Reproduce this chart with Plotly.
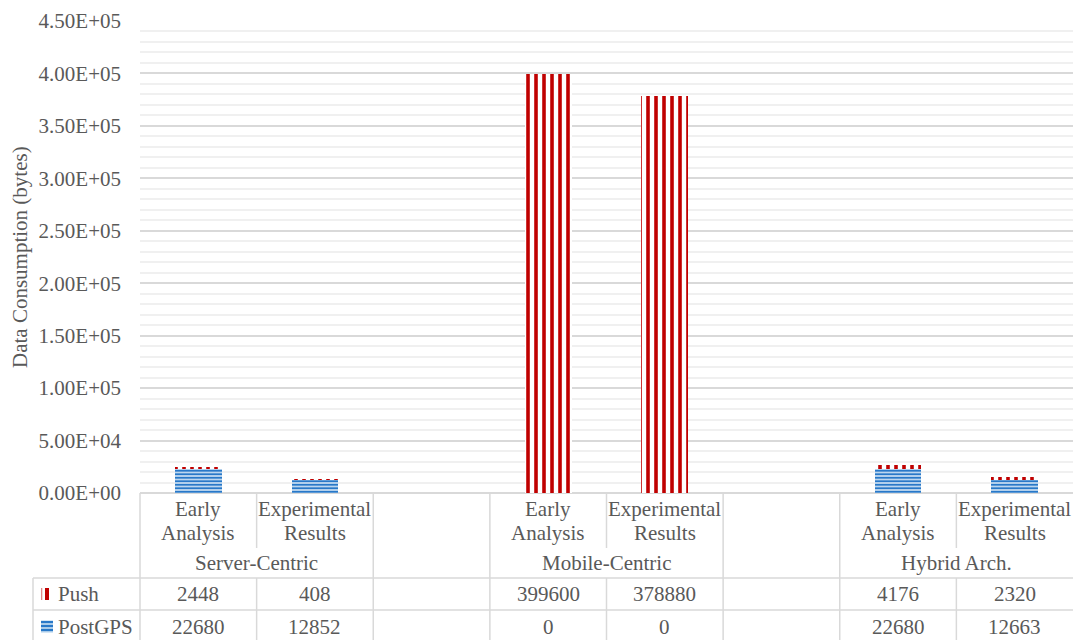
import plotly.graph_objects as go

# ---- data ----
categories = ["Early Analysis", "Experimental Results", "",
              "Early Analysis", "Experimental Results", "",
              "Early Analysis", "Experimental Results"]
groups = ["Server-Centric", "Mobile-Centric", "Hybrid Arch."]
group_centers = [0.5, 3.5, 6.5]
push = [2448, 408, None, 399600, 378880, None, 4176, 2320]
postgps = [22680, 12852, None, 0, 0, None, 22680, 12663]
y_ticks = [0, 50000, 100000, 150000, 200000, 250000, 300000, 350000, 400000, 450000]

FONT = "Liberation Serif, Times New Roman, DejaVu Serif, serif"
TXT = "#595959"
GRID = "#d9d9d9"
RED = "#C00000"
BLUE = "#2878C8"
FS = 21

# pixel geometry helpers
L, T, B = 140, 21, 493
W, H = 1073, 640
PW, PH = W - L, B - T


def py(p):
    return (B - p) / PH


def px(p):
    return (p - L) / PW


x = list(range(len(categories)))

fig = go.Figure()
fig.add_trace(go.Bar(
    x=x, y=postgps, name="PostGPS", width=0.4,
    marker=dict(color="#bcd6ef", line=dict(width=0),
                pattern=dict(shape="-", fgcolor=BLUE, bgcolor="#bcd6ef", fgopacity=1,
                             size=3.5, solidity=0.5, fillmode="replace")),
))
fig.add_trace(go.Bar(
    x=x, y=push, name="Push", width=0.4,
    marker=dict(color="white", line=dict(width=0),
                pattern=dict(shape="|", fgcolor=RED, bgcolor="white", fgopacity=1,
                             size=8, solidity=0.45, fillmode="replace")),
))

shapes = []
line = dict(color=GRID, width=1.5)
n = len(categories)


def bx(i):  # boundary paper x at left of category i
    return i / n


# horizontal table lines
for yy in (578, 610):
    shapes.append(dict(type="line", xref="paper", yref="paper",
                       x0=px(33), x1=1, y0=py(yy), y1=py(yy), line=line))
# left border lines
shapes.append(dict(type="line", xref="paper", yref="paper",
                   x0=0, x1=0, y0=py(493), y1=py(640), line=line))
shapes.append(dict(type="line", xref="paper", yref="paper",
                   x0=px(33), x1=px(33), y0=py(578), y1=py(640), line=line))
# vertical boundaries
for i in range(1, n):
    if categories[i] == "" or categories[i - 1] == "":
        shapes.append(dict(type="line", xref="paper", yref="paper",
                           x0=bx(i), x1=bx(i), y0=py(493), y1=py(640), line=line))
    else:
        shapes.append(dict(type="line", xref="paper", yref="paper",
                           x0=bx(i), x1=bx(i), y0=py(493), y1=py(548), line=line))
        shapes.append(dict(type="line", xref="paper", yref="paper",
                           x0=bx(i), x1=bx(i), y0=py(578), y1=py(640), line=line))

# legend keys
shapes.append(dict(type="rect", xref="paper", yref="paper", x0=px(41), x1=px(42.3),
                   y0=py(600), y1=py(588), line=dict(width=0), fillcolor="#e08a8a"))
shapes.append(dict(type="rect", xref="paper", yref="paper", x0=px(45), x1=px(49),
                   y0=py(600), y1=py(588), line=dict(width=0), fillcolor=RED))
shapes.append(dict(type="rect", xref="paper", yref="paper", x0=px(41), x1=px(53),
                   y0=py(632.5), y1=py(620.5), line=dict(width=0), fillcolor="#a9cbe9"))
for ly in (621, 625, 629):
    shapes.append(dict(type="rect", xref="paper", yref="paper", x0=px(41), x1=px(53),
                       y0=py(ly + 2), y1=py(ly), line=dict(width=0), fillcolor=BLUE))

ann = []
tf = dict(family=FONT, size=FS, color=TXT)
for i, c in enumerate(categories):
    if c:
        a, b = c.split(" ", 1)
        ann.append(dict(x=i, y=py(509), xref="x", yref="paper", text=a,
                        showarrow=False, font=tf, xanchor="center", yanchor="middle"))
        ann.append(dict(x=i, y=py(533), xref="x", yref="paper", text=b,
                        showarrow=False, font=tf, xanchor="center", yanchor="middle"))
    if push[i] is not None:
        ann.append(dict(x=i, y=py(594), xref="x", yref="paper", text=str(push[i]),
                        showarrow=False, font=tf, xanchor="center", yanchor="middle"))
    if postgps[i] is not None:
        ann.append(dict(x=i, y=py(627), xref="x", yref="paper", text=str(postgps[i]),
                        showarrow=False, font=tf, xanchor="center", yanchor="middle"))
for g, gc in zip(groups, group_centers):
    ann.append(dict(x=gc, y=py(563), xref="x", yref="paper", text=g,
                    showarrow=False, font=tf, xanchor="center", yanchor="middle"))
ann.append(dict(x=px(56), y=py(594), xref="paper", yref="paper", text="Push",
                showarrow=False, font=tf, xanchor="left", yanchor="middle"))
ann.append(dict(x=px(56), y=py(627), xref="paper", yref="paper", text="PostGPS",
                showarrow=False, font=tf, xanchor="left", yanchor="middle"))
ann.append(dict(x=px(20), y=0.5, xref="paper", yref="paper",
                text="Data Consumption (bytes)", textangle=-90,
                showarrow=False, font=tf, xanchor="center", yanchor="middle"))

fig.update_layout(
    width=W, height=H,
    margin=dict(l=L, r=0, t=T, b=H - B, pad=0),
    barmode="stack",
    plot_bgcolor="white", paper_bgcolor="white",
    showlegend=False,
    font=dict(family=FONT, size=FS, color=TXT),
    shapes=shapes, annotations=ann,
    xaxis=dict(range=[-0.5, n - 0.5], showticklabels=False, showgrid=False,
               zeroline=False, showline=False, ticks="", fixedrange=True),
    yaxis=dict(range=[0, 450000], tickvals=y_ticks,
               ticktext=[f"{v:.2E}" for v in y_ticks],
               showgrid=True, gridcolor=GRID, gridwidth=1.5,
               zeroline=True, zerolinecolor=GRID, zerolinewidth=1.5,
               ticks="", ticklabelstandoff=18,
               tickfont=dict(family=FONT, size=FS, color=TXT),
               minor=dict(dtick=10000, showgrid=True, gridcolor="#f0f0f0", gridwidth=1.5),
               fixedrange=True),
)

fig.write_html("out.html")
